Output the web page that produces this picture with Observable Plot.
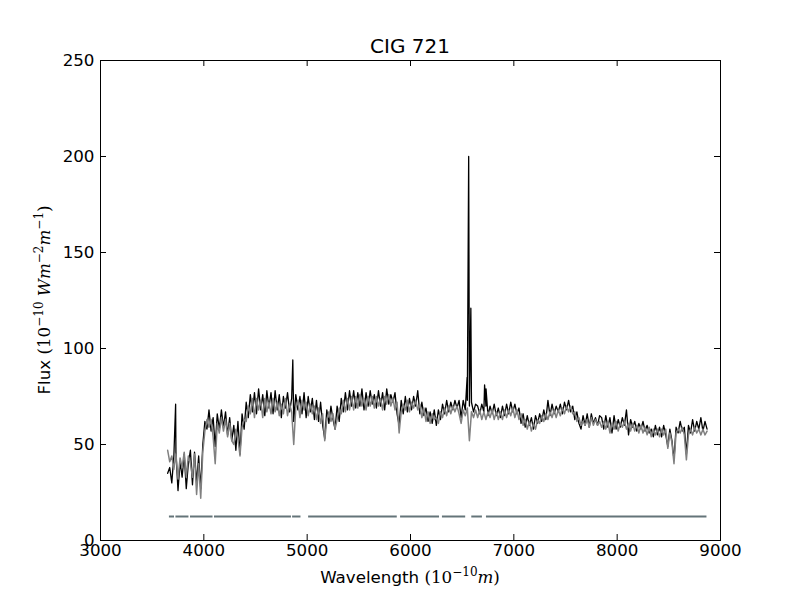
<!DOCTYPE html>
<html><head><meta charset="utf-8">
<script src="https://cdn.jsdelivr.net/npm/d3@7"></script>
<script src="https://cdn.jsdelivr.net/npm/@observablehq/plot@0.6"></script>
<style>body{margin:0;background:#fff}</style>
</head><body><div id="chart"></div>
<script>
// Wavelength grid (Angstrom): start + step, one value per flux sample
const waveStart = 3650, waveStep = 20;

// Observed spectrum (black)
const obsFlux = [
  35, 38, 30, 44, 46, 26, 41, 33, 45, 27,
  40, 47, 29, 46, 30, 44, 27, 50, 62, 58,
  68, 57, 64, 49, 66, 58, 68, 59, 67, 55,
  64, 52, 60, 47, 62, 45, 66, 58, 72, 64,
  76, 67, 77, 66, 79, 68, 76, 65, 78, 69,
  77, 66, 78, 68, 76, 64, 75, 69, 77, 67,
  74, 62, 76, 68, 75, 66, 77, 64, 75, 67,
  74, 63, 73, 62, 72, 60, 53, 68, 61, 70,
  63, 58, 70, 62, 74, 67, 77, 68, 78, 70,
  78, 69, 77, 70, 79, 68, 77, 70, 78, 71,
  76, 69, 78, 70, 77, 68, 79, 71, 76, 72,
  77, 66, 60, 73, 66, 75, 67, 74, 68, 75,
  70, 78, 66, 72, 65, 69, 62, 67, 61, 68,
  60, 68, 63, 71, 66, 73, 67, 72, 68, 73,
  69, 73, 64, 73, 68, 73, 70, 72, 67, 71,
  70, 66, 71, 67, 70, 65, 70, 66, 71, 65,
  69, 64, 70, 65, 71, 66, 72, 67, 71, 66,
  69, 61, 66, 59, 65, 60, 64, 58, 65, 61,
  66, 62, 68, 63, 73, 65, 71, 66, 70, 67,
  71, 66, 72, 68, 73, 67, 70, 63, 67, 61,
  58, 65, 60, 66, 59, 66, 61, 64, 60, 65,
  64, 58, 65, 59, 64, 56, 65, 58, 63, 59,
  64, 60, 68, 55, 63, 59, 62, 57, 61, 58,
  62, 57, 60, 56, 58, 54, 60, 55, 59, 54,
  60, 55, 49, 58, 52, 42, 59, 56, 62, 57,
  59, 45, 60, 56, 63, 57, 62, 58, 64, 57,
  62, 58
];

// Model spectrum (grey)
const modelFlux = [
  47, 41, 44, 37, 45, 32, 43, 38, 46, 33,
  44, 40, 33, 45, 24, 40, 22, 46, 57, 63,
  59, 63, 54, 40, 61, 56, 64, 57, 63, 54,
  61, 52, 50, 58, 53, 44, 59, 63, 62, 70,
  66, 74, 64, 74, 68, 73, 64, 74, 67, 72,
  66, 74, 67, 72, 65, 71, 66, 74, 65, 71,
  67, 50, 69, 73, 64, 73, 68, 72, 65, 71,
  66, 70, 63, 69, 61, 66, 52, 63, 67, 62,
  66, 58, 63, 69, 66, 73, 67, 74, 68, 75,
  68, 75, 69, 76, 70, 74, 68, 75, 70, 75,
  69, 75, 70, 74, 68, 75, 71, 76, 70, 74,
  68, 72, 56, 67, 71, 68, 73, 67, 72, 69,
  73, 68, 71, 64, 69, 62, 67, 61, 66, 63,
  64, 61, 67, 64, 69, 65, 70, 66, 70, 67,
  70, 66, 61, 68, 65, 69, 52, 67, 64, 68,
  64, 68, 63, 67, 63, 67, 64, 68, 63, 67,
  63, 67, 63, 68, 64, 68, 65, 69, 64, 68,
  63, 66, 60, 63, 58, 62, 57, 61, 58, 63,
  61, 65, 62, 66, 63, 67, 64, 68, 64, 68,
  65, 69, 66, 70, 67, 70, 66, 67, 62, 64,
  60, 62, 60, 63, 59, 64, 60, 63, 60, 62,
  59, 62, 58, 62, 56, 61, 58, 62, 57, 61,
  59, 62, 58, 61, 57, 61, 57, 60, 56, 60,
  56, 59, 55, 59, 54, 58, 55, 58, 54, 58,
  55, 58, 48, 56, 51, 40, 56, 58, 56, 59,
  55, 42, 55, 58, 55, 59, 56, 58, 55, 58,
  55, 57
];

// Emission line peaks in the observed spectrum
const lineWave = [3727, 4861, 6548, 6563, 6584, 6717, 6731];
const lineFlux = [71, 94, 85, 200, 121, 81, 79];

// Masked / fitted wavelength windows
const maskStart = [3667, 3730, 3871, 4103, 4859, 5014, 5904, 6309, 6593, 6735];
const maskEnd   = [3716, 3856, 4089, 4848, 4940, 5872, 6281, 6534, 6696, 8869];
const maskLevel = 12.5;

const xTicks = [3000, 4000, 5000, 6000, 7000, 8000, 9000];
const yTicks = [0, 50, 100, 150, 200, 250];

// Build tables
const grid = obsFlux.map((_, i) => waveStart + i * waveStep);
const obs = grid.map((w, i) => ({wave: w, flux: obsFlux[i]}))
  .concat(lineWave.map((w, i) => ({wave: w, flux: lineFlux[i]})))
  .sort((a, b) => a.wave - b.wave);
const model = grid.map((w, i) => ({wave: w, flux: modelFlux[i]}));
const mask = maskStart.map((s, i) => ({start: s, end: maskEnd[i], level: maskLevel}));

const W = 800, H = 600, mL = 100, mR = 80, mT = 60, mB = 60;
const innerW = W - mL - mR, innerH = H - mT - mB;
const tickLen = 6;
const FS = 16.7;

const plot = Plot.plot({
  width: W, height: H,
  marginLeft: mL, marginRight: mR, marginTop: mT, marginBottom: mB,
  style: {fontFamily: "DejaVu Sans", fontSize: FS + "px", background: "#fff", color: "#000", overflow: "visible"},
  x: {domain: [3000, 9000]},
  y: {domain: [0, 250]},
  marks: [
    Plot.line(obs, {x: "wave", y: "flux", stroke: "#000", strokeWidth: 1.3}),
    Plot.line(model, {x: "wave", y: "flux", stroke: "#808080", strokeWidth: 1.5}),
    Plot.ruleY(mask, {y: "level", x1: "start", x2: "end", stroke: "#647479", strokeWidth: 2}),
    Plot.tickX(xTicks, {x: d => d, insetTop: innerH - tickLen, stroke: "#000"}),
    Plot.tickX(xTicks, {x: d => d, insetBottom: innerH - tickLen, stroke: "#000"}),
    Plot.tickY(yTicks, {y: d => d, insetRight: innerW - tickLen, stroke: "#000"}),
    Plot.tickY(yTicks, {y: d => d, insetLeft: innerW - tickLen, stroke: "#000"}),
    Plot.frame({stroke: "#000", strokeWidth: 1}),
    Plot.axisX({ticks: xTicks, tickSize: 0, tickPadding: 4, tickFormat: d => String(d), label: null, fill: "#000"}),
    Plot.axisY({ticks: yTicks, tickSize: 0, tickPadding: 6, tickFormat: d => String(d), label: null, fill: "#000"})
  ]
});
document.getElementById("chart").appendChild(plot);

const svg = d3.select(plot);
const cx = mL + innerW / 2;
const SUP = 12, SH = 7;
// Title
svg.append("text").attr("x", cx).attr("y", 53).attr("text-anchor", "middle")
  .attr("font-family", "DejaVu Sans").attr("font-size", 20).attr("fill", "#000").text("CIG 721");

// X label
const xl = svg.append("text").attr("x", cx).attr("y", 583).attr("text-anchor", "middle")
  .attr("font-family", "DejaVu Sans").attr("font-size", FS).attr("fill", "#000");
xl.append("tspan").text("Wavelength ");
xl.append("tspan").attr("font-family", "DejaVu Serif").text("(10");
xl.append("tspan").attr("font-family", "DejaVu Serif").attr("font-size", SUP).attr("dy", -SH).text("−10");
xl.append("tspan").attr("font-family", "DejaVu Serif").attr("font-style", "italic").attr("dy", SH).text("m");
xl.append("tspan").attr("font-family", "DejaVu Serif").text(")");

// Y label
const yl = svg.append("text").attr("transform", `translate(50,${mT + innerH / 2}) rotate(-90)`)
  .attr("text-anchor", "middle").attr("font-family", "DejaVu Sans").attr("font-size", FS).attr("fill", "#000");
yl.append("tspan").text("Flux ");
yl.append("tspan").attr("font-family", "DejaVu Serif").text("(10");
yl.append("tspan").attr("font-family", "DejaVu Serif").attr("font-size", SUP).attr("dy", -SH).text("−10");
yl.append("tspan").attr("font-family", "DejaVu Serif").attr("font-style", "italic").attr("dy", SH).text(" Wm");
yl.append("tspan").attr("font-family", "DejaVu Serif").attr("font-size", SUP).attr("dy", -SH).text("−2");
yl.append("tspan").attr("font-family", "DejaVu Serif").attr("font-style", "italic").attr("dy", SH).text("m");
yl.append("tspan").attr("font-family", "DejaVu Serif").attr("font-size", SUP).attr("dy", -SH).text("−1");
yl.append("tspan").attr("font-family", "DejaVu Serif").attr("dy", SH).text(")");
</script>
</body></html>
